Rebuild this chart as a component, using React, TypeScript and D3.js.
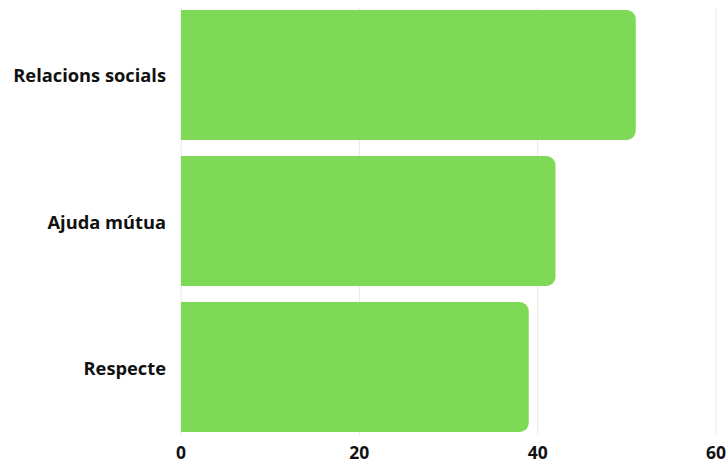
import React from "react";
import * as d3 from "d3";

const categories = ["Relacions socials", "Ajuda mútua", "Respecte"];
const values = [51, 42, 39];
const xTicks = [0, 20, 40, 60];

const W = 728;
const H = 463;

export default function App() {
  const x = d3.scaleLinear().domain([0, 60]).range([181, 716]);
  const y = d3.scaleBand<string>().domain(categories).range([10, 432]).paddingInner(0.11).paddingOuter(0);
  const r = 9;
  const barPath = (v: number, c: string) => {
    const x0 = x(0);
    const x1 = x(v);
    const y0 = y(c)!;
    const h = y.bandwidth();
    const p = d3.path();
    p.moveTo(x0, y0);
    p.lineTo(x1 - r, y0);
    p.arcTo(x1, y0, x1, y0 + r, r);
    p.lineTo(x1, y0 + h - r);
    p.arcTo(x1, y0 + h, x1 - r, y0 + h, r);
    p.lineTo(x0, y0 + h);
    p.closePath();
    return p.toString();
  };
  return (
    <svg width={W} height={H} style={{ position: "absolute", left: 0, top: 0, fontFamily: "'Open Sans', sans-serif" }}>
      <rect width={W} height={H} fill="#fff" />
      {xTicks.map((t) => (
        <line key={t} x1={x(t)} x2={x(t)} y1={8} y2={435} stroke="#e8e8e8" strokeWidth={1} />
      ))}
      {categories.map((c, i) => (
        <path key={c} d={barPath(values[i], c)} fill="#7ED957" />
      ))}
      {categories.map((c) => (
        <text key={c} x={166} y={y(c)! + y.bandwidth() / 2} textAnchor="end" dominantBaseline="central" fontSize={18.3} fontWeight={700} fill="#111">
          {c}
        </text>
      ))}
      {xTicks.map((t) => (
        <text key={t} x={x(t)} y={451.5} textAnchor="middle" dominantBaseline="central" fontSize={17.5} fontWeight={700} fill="#111">
          {t}
        </text>
      ))}
    </svg>
  );
}
